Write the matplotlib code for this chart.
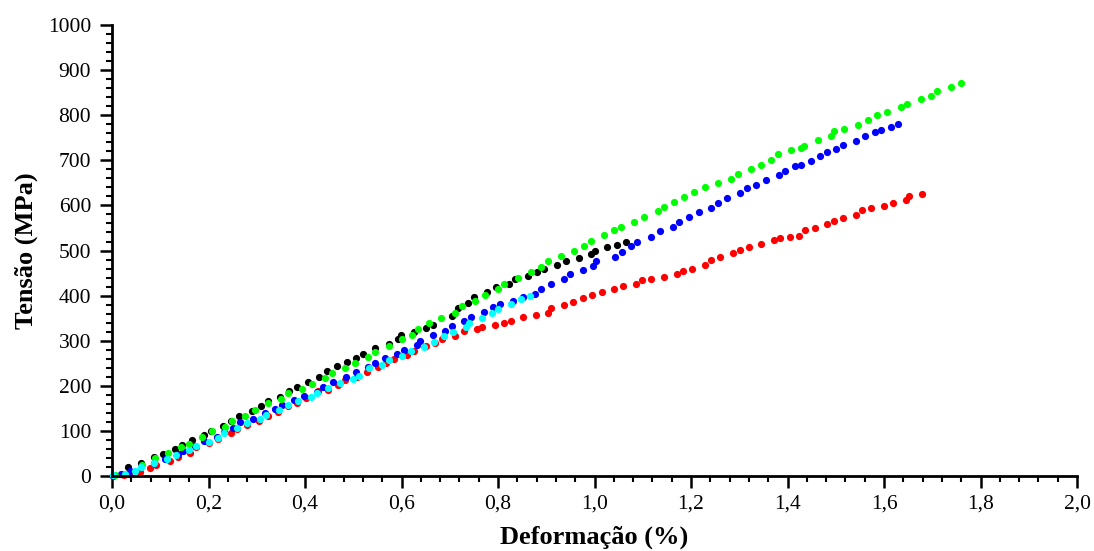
import matplotlib
matplotlib.use("Agg")
import matplotlib.pyplot as plt
from matplotlib.ticker import MultipleLocator, FuncFormatter

plt.rcParams['font.family'] = ['Liberation Serif', 'DejaVu Serif']

# strain (%) / stress (MPa), one pair of lists per specimen
black_x = [0.033, 0.060, 0.086, 0.105, 0.131, 0.146, 0.165, 0.191, 0.206, 0.231, 0.246, 0.264, 0.290,
           0.308, 0.323, 0.348, 0.367, 0.383, 0.407, 0.428, 0.446, 0.467, 0.486, 0.506, 0.520, 0.546,
           0.573, 0.593, 0.599, 0.626, 0.651, 0.665, 0.704, 0.716, 0.737, 0.750, 0.777, 0.796, 0.822,
           0.835, 0.862, 0.881, 0.895, 0.922, 0.941, 0.967, 0.993, 1.000, 1.026, 1.046, 1.065]
black_y = [19, 29, 42, 49, 61, 69, 81, 92, 100, 111, 123, 134, 145,
           155, 166, 176, 189, 198, 209, 220, 233, 244, 253, 262, 271, 283,
           293, 303, 312, 320, 328, 334, 355, 372, 384, 398, 408, 419, 426,
           436, 443, 453, 459, 469, 476, 483, 492, 500, 507, 513, 519]

green_x = [0.006, 0.063, 0.090, 0.117, 0.142, 0.159, 0.186, 0.207, 0.234, 0.248, 0.276, 0.296, 0.324,
           0.350, 0.365, 0.393, 0.414, 0.441, 0.456, 0.483, 0.504, 0.531, 0.545, 0.573, 0.600, 0.621,
           0.635, 0.656, 0.682, 0.711, 0.725, 0.752, 0.773, 0.799, 0.813, 0.841, 0.868, 0.889, 0.903,
           0.931, 0.958, 0.979, 0.993, 1.020, 1.041, 1.055, 1.082, 1.103, 1.131, 1.145, 1.165, 1.186,
           1.207, 1.228, 1.255, 1.283, 1.297, 1.324, 1.345, 1.366, 1.380, 1.407, 1.428, 1.435, 1.463,
           1.490, 1.497, 1.518, 1.545, 1.566, 1.586, 1.607, 1.635, 1.648, 1.676, 1.697, 1.710, 1.738,
           1.759]
green_y = [2, 25, 41, 51, 64, 72, 86, 100, 109, 122, 134, 147, 161,
           171, 185, 193, 205, 218, 229, 239, 251, 265, 276, 289, 303, 313,
           326, 339, 351, 362, 376, 388, 402, 415, 426, 439, 452, 463, 477,
           489, 500, 511, 521, 534, 545, 553, 564, 575, 588, 596, 608, 618,
           629, 641, 649, 659, 670, 681, 690, 700, 713, 722, 727, 732, 745,
           754, 766, 770, 779, 789, 801, 807, 819, 825, 837, 843, 853, 862,
           871]

blue_x = [0.002, 0.019, 0.037, 0.088, 0.110, 0.137, 0.147, 0.172, 0.191, 0.217, 0.233, 0.251, 0.266,
          0.293, 0.318, 0.338, 0.352, 0.378, 0.398, 0.424, 0.438, 0.459, 0.484, 0.505, 0.531, 0.545,
          0.566, 0.591, 0.605, 0.632, 0.638, 0.665, 0.691, 0.704, 0.730, 0.744, 0.770, 0.790, 0.804,
          0.830, 0.851, 0.877, 0.890, 0.910, 0.937, 0.950, 0.976, 0.996, 1.003, 1.043, 1.056, 1.076,
          1.089, 1.116, 1.136, 1.162, 1.176, 1.196, 1.216, 1.242, 1.255, 1.275, 1.302, 1.315, 1.335,
          1.355, 1.382, 1.395, 1.415, 1.428, 1.448, 1.468, 1.481, 1.501, 1.514, 1.541, 1.561, 1.581,
          1.594, 1.615, 1.628]
blue_y = [1, 4, 12, 29, 37, 48, 56, 67, 78, 86, 97, 106, 119,
          127, 140, 149, 158, 168, 177, 187, 198, 209, 220, 231, 242, 251,
          262, 271, 280, 291, 300, 312, 322, 333, 344, 353, 364, 374, 381,
          388, 396, 404, 415, 426, 437, 448, 456, 465, 477, 486, 497, 509,
          519, 529, 543, 552, 563, 574, 585, 595, 605, 616, 627, 639, 646,
          656, 667, 676, 687, 690, 698, 709, 718, 725, 735, 743, 754, 763,
          768, 773, 781]

cyan_x = [0.003, 0.027, 0.048, 0.060, 0.088, 0.114, 0.133, 0.160, 0.174, 0.200, 0.220, 0.233, 0.260,
          0.280, 0.306, 0.320, 0.346, 0.364, 0.386, 0.412, 0.425, 0.447, 0.473, 0.499, 0.512, 0.533,
          0.560, 0.573, 0.600, 0.620, 0.646, 0.668, 0.687, 0.707, 0.733, 0.740, 0.767, 0.788, 0.799,
          0.826, 0.847, 0.866]
cyan_y = [3, 4, 11, 21, 29, 37, 47, 57, 67, 75, 85, 95, 106,
          117, 126, 135, 146, 157, 167, 176, 185, 196, 207, 216, 221, 239,
          246, 258, 266, 278, 287, 298, 310, 319, 330, 340, 351, 361, 371,
          381, 392, 400]

red_x = [0.024, 0.035, 0.059, 0.079, 0.091, 0.120, 0.137, 0.162, 0.175, 0.202, 0.220, 0.247, 0.260,
         0.280, 0.305, 0.324, 0.343, 0.365, 0.383, 0.402, 0.426, 0.448, 0.468, 0.483, 0.507, 0.528,
         0.552, 0.568, 0.584, 0.612, 0.625, 0.650, 0.670, 0.684, 0.710, 0.730, 0.756, 0.767, 0.794,
         0.813, 0.826, 0.852, 0.879, 0.904, 0.910, 0.937, 0.956, 0.976, 0.995, 1.015, 1.040, 1.060,
         1.085, 1.099, 1.118, 1.145, 1.171, 1.184, 1.203, 1.229, 1.242, 1.261, 1.287, 1.301, 1.320,
         1.346, 1.372, 1.385, 1.405, 1.424, 1.437, 1.456, 1.482, 1.496, 1.515, 1.541, 1.554, 1.574,
         1.600, 1.619, 1.646, 1.652, 1.678]
red_y = [2, 4, 10, 17, 24, 34, 43, 52, 64, 73, 83, 95, 104,
         113, 123, 133, 143, 155, 162, 174, 188, 191, 201, 212, 220, 231,
         241, 251, 260, 269, 278, 289, 296, 304, 311, 321, 327, 330, 336,
         339, 344, 352, 357, 362, 372, 380, 386, 395, 401, 408, 414, 421,
         426, 434, 437, 442, 449, 455, 460, 469, 478, 486, 494, 501, 508,
         514, 523, 528, 530, 533, 545, 551, 559, 565, 572, 579, 590, 595,
         599, 606, 613, 621, 626]

fig = plt.figure(figsize=(10.94, 5.51), dpi=100)
ax = fig.add_axes([0.1024, 0.136, 0.8821, 0.8186])

# drawing order so the overlaps look like the original
series = [(red_x, red_y, '#ff0000'),
          (black_x, black_y, '#000000'),
          (blue_x, blue_y, '#0000ff'),
          (green_x, green_y, '#00ff00'),
          (cyan_x, cyan_y, '#00ffff')]
for xs, ys, c in series:
    ax.plot(xs, ys, 'o', color=c, markersize=5.2, markeredgewidth=0, clip_on=False)

ax.set_xlim(0, 2.0)
ax.set_ylim(0, 1000)
ax.xaxis.set_major_locator(MultipleLocator(0.2))
ax.xaxis.set_minor_locator(MultipleLocator(0.04))
ax.yaxis.set_major_locator(MultipleLocator(100))
ax.yaxis.set_minor_locator(MultipleLocator(20))
ax.xaxis.set_major_formatter(FuncFormatter(lambda v, p: f"{v:.1f}".replace('.', ',')))

for s in ['top', 'right']:
    ax.spines[s].set_visible(False)
for s in ['left', 'bottom']:
    ax.spines[s].set_linewidth(2)

ax.tick_params(which='major', direction='out', length=8.3, width=1.8, labelsize=15.5)
ax.tick_params(which='minor', direction='out', length=4.3, width=1.5)
ax.tick_params(axis='x', which='major', pad=5)
ax.tick_params(axis='y', which='major', pad=6.8)

ax.set_xlabel('Deformação (%)', fontsize=19, fontweight='bold', labelpad=9)
ax.set_ylabel('Tensão (MPa)', fontsize=19, fontweight='bold', labelpad=7)

fig.savefig('out.png', dpi=100)
